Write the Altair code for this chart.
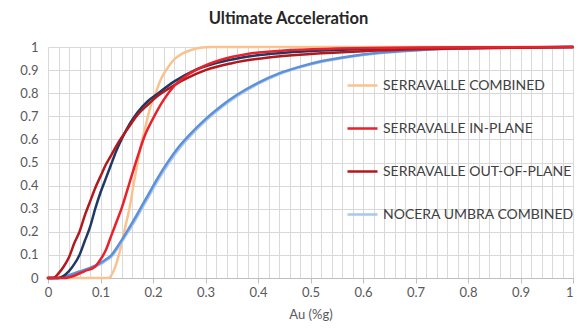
import altair as alt
import pandas as pd

# ---- data ----
sc_x = [0, 0.05, 0.1, 0.115, 0.125, 0.135, 0.145, 0.155, 0.165, 0.175, 0.185, 0.195, 0.205, 0.215, 0.225, 0.24, 0.255, 0.27, 0.29, 0.31, 0.5, 1.0]
sc_y = [0, 0, 0, 0.0, 0.03, 0.1, 0.2, 0.3, 0.43, 0.55, 0.65, 0.74, 0.8, 0.86, 0.9, 0.945, 0.97, 0.985, 0.997, 1, 1, 1]

nc_x = [0, 0.02, 0.04, 0.06, 0.08, 0.1, 0.11, 0.12, 0.13, 0.14, 0.15, 0.17, 0.19, 0.21, 0.23, 0.25, 0.27, 0.3, 0.33, 0.36, 0.4, 0.44, 0.48, 0.52, 0.57, 0.63, 0.7, 0.77, 0.85, 0.93, 1]
nc_y = [0, 0, 0.01, 0.025, 0.04, 0.06, 0.075, 0.09, 0.12, 0.155, 0.19, 0.265, 0.345, 0.425, 0.497, 0.56, 0.612, 0.68, 0.738, 0.787, 0.84, 0.882, 0.912, 0.935, 0.956, 0.973, 0.985, 0.992, 0.997, 0.999, 1]

n2_x = [0, 0.02, 0.04, 0.06, 0.08, 0.1, 0.11, 0.12, 0.13, 0.14, 0.15, 0.17, 0.19, 0.21, 0.23, 0.25, 0.27, 0.3, 0.33, 0.36, 0.4, 0.44, 0.48, 0.52, 0.57, 0.63, 0.7, 0.77, 0.85, 0.93, 1]
n2_y = [0, 0, 0.012, 0.028, 0.044, 0.065, 0.08, 0.097, 0.128, 0.163, 0.2, 0.277, 0.357, 0.437, 0.508, 0.57, 0.621, 0.688, 0.745, 0.793, 0.845, 0.886, 0.915, 0.938, 0.958, 0.975, 0.986, 0.993, 0.997, 0.999, 1]

nv_x = [0, 0.02, 0.03, 0.04, 0.05, 0.06, 0.07, 0.08, 0.09, 0.1, 0.11, 0.12, 0.13, 0.14, 0.155, 0.17, 0.19, 0.21, 0.24, 0.28, 0.32, 0.37, 0.45, 0.55, 0.7, 0.85, 1]
nv_y = [0, 0, 0.01, 0.03, 0.06, 0.1, 0.16, 0.22, 0.3, 0.37, 0.43, 0.49, 0.55, 0.6, 0.665, 0.715, 0.765, 0.8, 0.85, 0.9, 0.93, 0.955, 0.975, 0.987, 0.995, 0.998, 1]

so_x = [0, 0.01, 0.02, 0.03, 0.04, 0.05, 0.06, 0.07, 0.08, 0.09, 0.1, 0.11, 0.12, 0.135, 0.15, 0.17, 0.19, 0.21, 0.23, 0.26, 0.3, 0.35, 0.42, 0.5, 0.6, 0.75, 0.9, 1]
so_y = [0, 0, 0.02, 0.05, 0.09, 0.15, 0.2, 0.27, 0.33, 0.39, 0.44, 0.49, 0.53, 0.59, 0.64, 0.705, 0.75, 0.79, 0.82, 0.86, 0.9, 0.93, 0.955, 0.97, 0.982, 0.992, 0.997, 1]

si_x = [0, 0.03, 0.05, 0.07, 0.09, 0.1, 0.11, 0.12, 0.13, 0.14, 0.155, 0.17, 0.185, 0.2, 0.22, 0.24, 0.26, 0.29, 0.33, 0.38, 0.45, 0.55, 0.7, 1]
si_y = [0, 0, 0.01, 0.03, 0.05, 0.08, 0.12, 0.18, 0.24, 0.3, 0.41, 0.52, 0.62, 0.69, 0.77, 0.83, 0.87, 0.91, 0.945, 0.97, 0.985, 0.993, 0.998, 1]

series_names = ["SERRAVALLE COMBINED", "NOCERA UMBRA COMBINED", "NOCERA UMBRA 2",
                "NOCERA UMBRA 3", "SERRAVALLE OUT-OF-PLANE", "SERRAVALLE IN-PLANE"]
series_x = [sc_x, nc_x, n2_x, nv_x, so_x, si_x]
series_y = [sc_y, nc_y, n2_y, nv_y, so_y, si_y]
series_colors = ["#F9C38F", "#A8C8EC", "#5E90D8", "#1F3864", "#B3191C", "#E8212B"]
legend_names = ["SERRAVALLE COMBINED", "SERRAVALLE IN-PLANE", "SERRAVALLE OUT-OF-PLANE", "NOCERA UMBRA COMBINED"]

x_ticks = [round(i * 0.02, 2) for i in range(51)]
y_ticks = [round(i * 0.1, 1) for i in range(11)]

rows = []
for k, (name, xs, ys) in enumerate(zip(series_names, series_x, series_y)):
    for i, (a, b) in enumerate(zip(xs, ys)):
        rows.append({"series": name, "x": a, "y": b, "k": k, "i": i})
df = pd.DataFrame(rows)

major = "abs(datum.value*10 - round(datum.value*10)) < 0.001"

chart = alt.Chart(df).mark_line(strokeWidth=2.5, strokeCap="round", strokeJoin="round", interpolate="monotone").encode(
    x=alt.X("x:Q", scale=alt.Scale(domain=[0, 1], nice=False),
            axis=alt.Axis(title="Au (%g)", values=x_ticks,
                          labelExpr=f"{major} ? format(datum.value, '~g') : ''",
                          labelOverlap=False, labelFlush=False,
                          labelAlign={"condition": {"test": "datum.value >= 0.999", "value": "right"}, "value": "center"},
                          tickColor={"condition": {"test": major, "value": "#BFBFBF"}, "value": "transparent"},
                          tickSize=5, labelPadding=3, titlePadding=9,
                          domainColor="#BFBFBF", gridColor="#D9D9D9")),
    y=alt.Y("y:Q", scale=alt.Scale(domain=[0, 1], nice=False),
            axis=alt.Axis(title=None, values=y_ticks, format="~g", ticks=False, tickSize=0,
                          labelPadding=10, domain=False, gridColor="#D9D9D9")),
    color=alt.Color("series:N",
                    scale=alt.Scale(domain=series_names, range=series_colors),
                    legend=alt.Legend(title=None, values=legend_names, orient="none",
                                      legendX=298, legendY=22, symbolType="stroke",
                                      symbolSize=900, symbolStrokeWidth=2.5,
                                      rowPadding=19, labelOffset=4, labelFontSize=14,
                                      labelFont="Lato", labelColor="#404040", labelLimit=400)),
    detail="k:N",
    order="i:Q",
).properties(
    width=525, height=231,
    title=alt.TitleParams("Ultimate Acceleration", fontSize=16.5, font="Lato", fontWeight="bold",
                          color="#262626", anchor="middle", dx=-22, offset=14),
    padding={"left": 40, "top": 39, "right": 1, "bottom": 47},
    autosize="none",
).configure_axis(
    labelFont="Lato", labelFontSize=13, labelColor="#595959",
    titleFont="Lato", titleFontSize=13, titleColor="#595959", titleFontWeight="normal",
).configure_view(stroke=None)

chart.save("out.html", embed_options={"renderer": "svg", "actions": False})
